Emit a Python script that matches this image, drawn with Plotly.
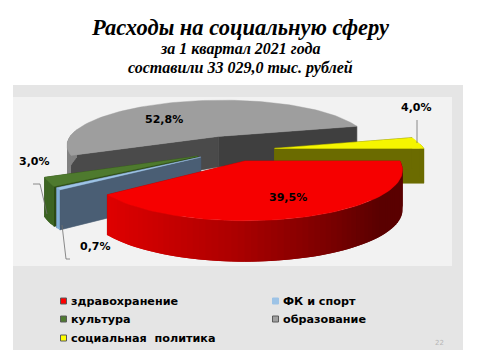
import math
import plotly.graph_objects as go

categories = ["здравохранение", "ФК и спорт", "культура", "образование", "социальная  политика"]
values = [39.5, 0.7, 3.0, 52.8, 4.0]
value_labels = ["39,5%", "0,7%", "3,0%", "52,8%", "4,0%"]
offsets = [(0, 0), (-0.29, -0.08), (-0.31, -0.10), (-0.19, -0.55), (0.20, -0.27)]
radii = [1, 1, 1, 1.05, 1.01]
top_colors = ["#f60000", "#9dc3e6", "#4e7a2e", "#9e9e9e", "#f5f500"]
legend_colors = ["#ff0000", "#9dc3e6", "#4f7a30", "#a0a0a0", "#ffff00"]
face_colors = [("#a00000", "#a00000"), ("#4a5e74", "#4a5e74"), ("#2c4a14", "#2c4a14"),
               ("#3f3f3f", "#4a4a4a"), ("#6b6b00", "#6b6b00")]

CX, CY, R, RY, P, D = 245, 161, 155, 49, 0.18, 39


def proj(x, y, z):
    s = 1 / (1 - P * y)
    k = 1 + 0.05 * y if y >= 0 else 1 + 0.4 * y
    return CX + R * x * s, CY + RY * y * s + D * k * z


fig = go.Figure()


def poly(pts, color, width=0.6):
    fig.add_trace(go.Scatter(
        x=[p[0] for p in pts] + [pts[0][0]], y=[p[1] for p in pts] + [pts[0][1]],
        mode="lines", fill="toself", fillcolor=color,
        line=dict(color=color, width=width), hoverinfo="skip", showlegend=False))


def mix(stops, t):
    t = max(0, min(1, t))
    for (a, ca), (b, cb) in zip(stops, stops[1:]):
        if t <= b:
            f = (t - a) / (b - a)
            return "rgb(%d,%d,%d)" % tuple(round(ca[i] + (cb[i] - ca[i]) * f) for i in range(3))
    return "rgb(%d,%d,%d)" % stops[-1][1]


def rim(i, a):
    dx, dy = offsets[i]
    r = radii[i]
    return dx + r * math.cos(a), dy + r * math.sin(a)


def draw(i, a0, a1, stops):
    dx, dy = offsets[i]
    n = max(2, int((a1 - a0) / math.radians(2)))
    angs = [a0 + (a1 - a0) * k / n for k in range(n + 1)]
    for a, col in ((a1, face_colors[i][0]), (a0, face_colors[i][1])):
        x, y = rim(i, a)
        poly([proj(dx, dy, 0), proj(x, y, 0), proj(x, y, 1), proj(dx, dy, 1)], col)
    for k in range(n):
        a, m = angs[k], (angs[k] + angs[k + 1]) / 2
        if math.sin(m) < -0.12:
            continue
        b = angs[min(k + 2, n)]
        pts = [(a + (b - a) * j / 4) for j in range(5)]
        upper = [proj(*rim(i, t), 0) for t in pts]
        lower = [proj(*rim(i, t), 1) for t in pts]
        sx = proj(*rim(i, m), 0)[0]
        poly(upper + lower[::-1], mix(stops, (sx - 100) / 310), width=0)
    poly([proj(dx, dy, 0)] + [proj(*rim(i, a), 0) for a in angs], top_colors[i], width=0.4)


total = sum(values)
angles = []
acc = 0
for v in values:
    angles.append((acc / total * 2 * math.pi, (acc + v) / total * 2 * math.pi))
    acc += v

red_stops = [(0, (226, 0, 0)), (0.45, (170, 0, 0)), (0.75, (120, 0, 0)), (0.9, (90, 0, 0)), (1, (90, 0, 0))]
grey_stops = [(0, (130, 130, 130)), (1, (130, 130, 130))]
green_stops = [(0, (60, 100, 34)), (1, (60, 100, 34))]
blue_stops = [(0, (130, 175, 215)), (1, (130, 175, 215))]
yellow_stops = [(0, (107, 107, 0)), (1, (107, 107, 0))]
stops_by_slice = [red_stops, blue_stops, green_stops, grey_stops, yellow_stops]

for i in (3, 4, 2, 1, 0):
    draw(i, angles[i][0], angles[i][1], stops_by_slice[i])

for xs, ys in (([33, 40, 47], [184, 184, 214]), ([62, 66, 70], [225, 259, 259]), ([417, 417], [120, 143])):
    fig.add_trace(go.Scatter(x=xs, y=ys, mode="lines", line=dict(color="#6e6e6e", width=0.8),
                             hoverinfo="skip", showlegend=False))

legend_pos = [(63.5, 301), (275.5, 301), (63.5, 319), (275.5, 319), (63.5, 338)]
for (lx, ly), c in zip(legend_pos, legend_colors):
    fig.add_trace(go.Scatter(x=[lx], y=[ly], mode="markers", hoverinfo="skip", showlegend=False,
                             marker=dict(symbol="square", size=6, color=c,
                                         line=dict(color="#9dc3e6" if c == "#9dc3e6" else "#5a5a5a", width=1))))

ann = []


def text(x, y, s, size, color="#000", family="DejaVu Sans", bold=True, italic=False, anchor="center"):
    if bold:
        s = "<b>" + s + "</b>"
    if italic:
        s = "<i>" + s + "</i>"
    ann.append(dict(x=x, y=y, xref="x", yref="y", text=s, showarrow=False, xanchor=anchor, yanchor="middle",
                    font=dict(size=size, color=color, family=family)))


TITLE = "Liberation Serif"
text(240, 27, "Расходы на социальную сферу", 22.5, family=TITLE, italic=True)
text(240, 49, "за 1 квартал 2021 года", 16, family=TITLE, italic=True)
text(240, 67.5, "составили 33 029,0 тыс. рублей", 16, family=TITLE, italic=True)

label_pos = [(288, 197), (95, 246), (34, 161), (164, 119), (416, 107)]
for (lx, ly), s in zip(label_pos, value_labels):
    text(lx, ly, s, 11)
for (lx, ly), name in zip(legend_pos, categories):
    text(lx + 5.5, ly, name, 11.2, anchor="left")
text(439, 343, "22", 7, color="#b5b5b5", bold=False)

fig.update_layout(
    width=480, height=360, margin=dict(l=0, r=0, t=0, b=0), paper_bgcolor="#ffffff", plot_bgcolor="#ffffff",
    xaxis=dict(range=[0, 480], visible=False, fixedrange=True),
    yaxis=dict(range=[360, 0], visible=False, fixedrange=True),
    showlegend=False, annotations=ann,
    shapes=[
        dict(type="rect", x0=13, x1=463, y0=85, y1=350, fillcolor="#e5e5e5", line_width=0, layer="below"),
        dict(type="rect", x0=13, x1=452, y0=97, y1=266, fillcolor="#f2f2f2", line_width=0, layer="below"),
    ],
)
fig.write_html("out.html", config={"displayModeBar": False},
               post_script="document.body.style.margin='0';document.documentElement.style.overflow='hidden';")
